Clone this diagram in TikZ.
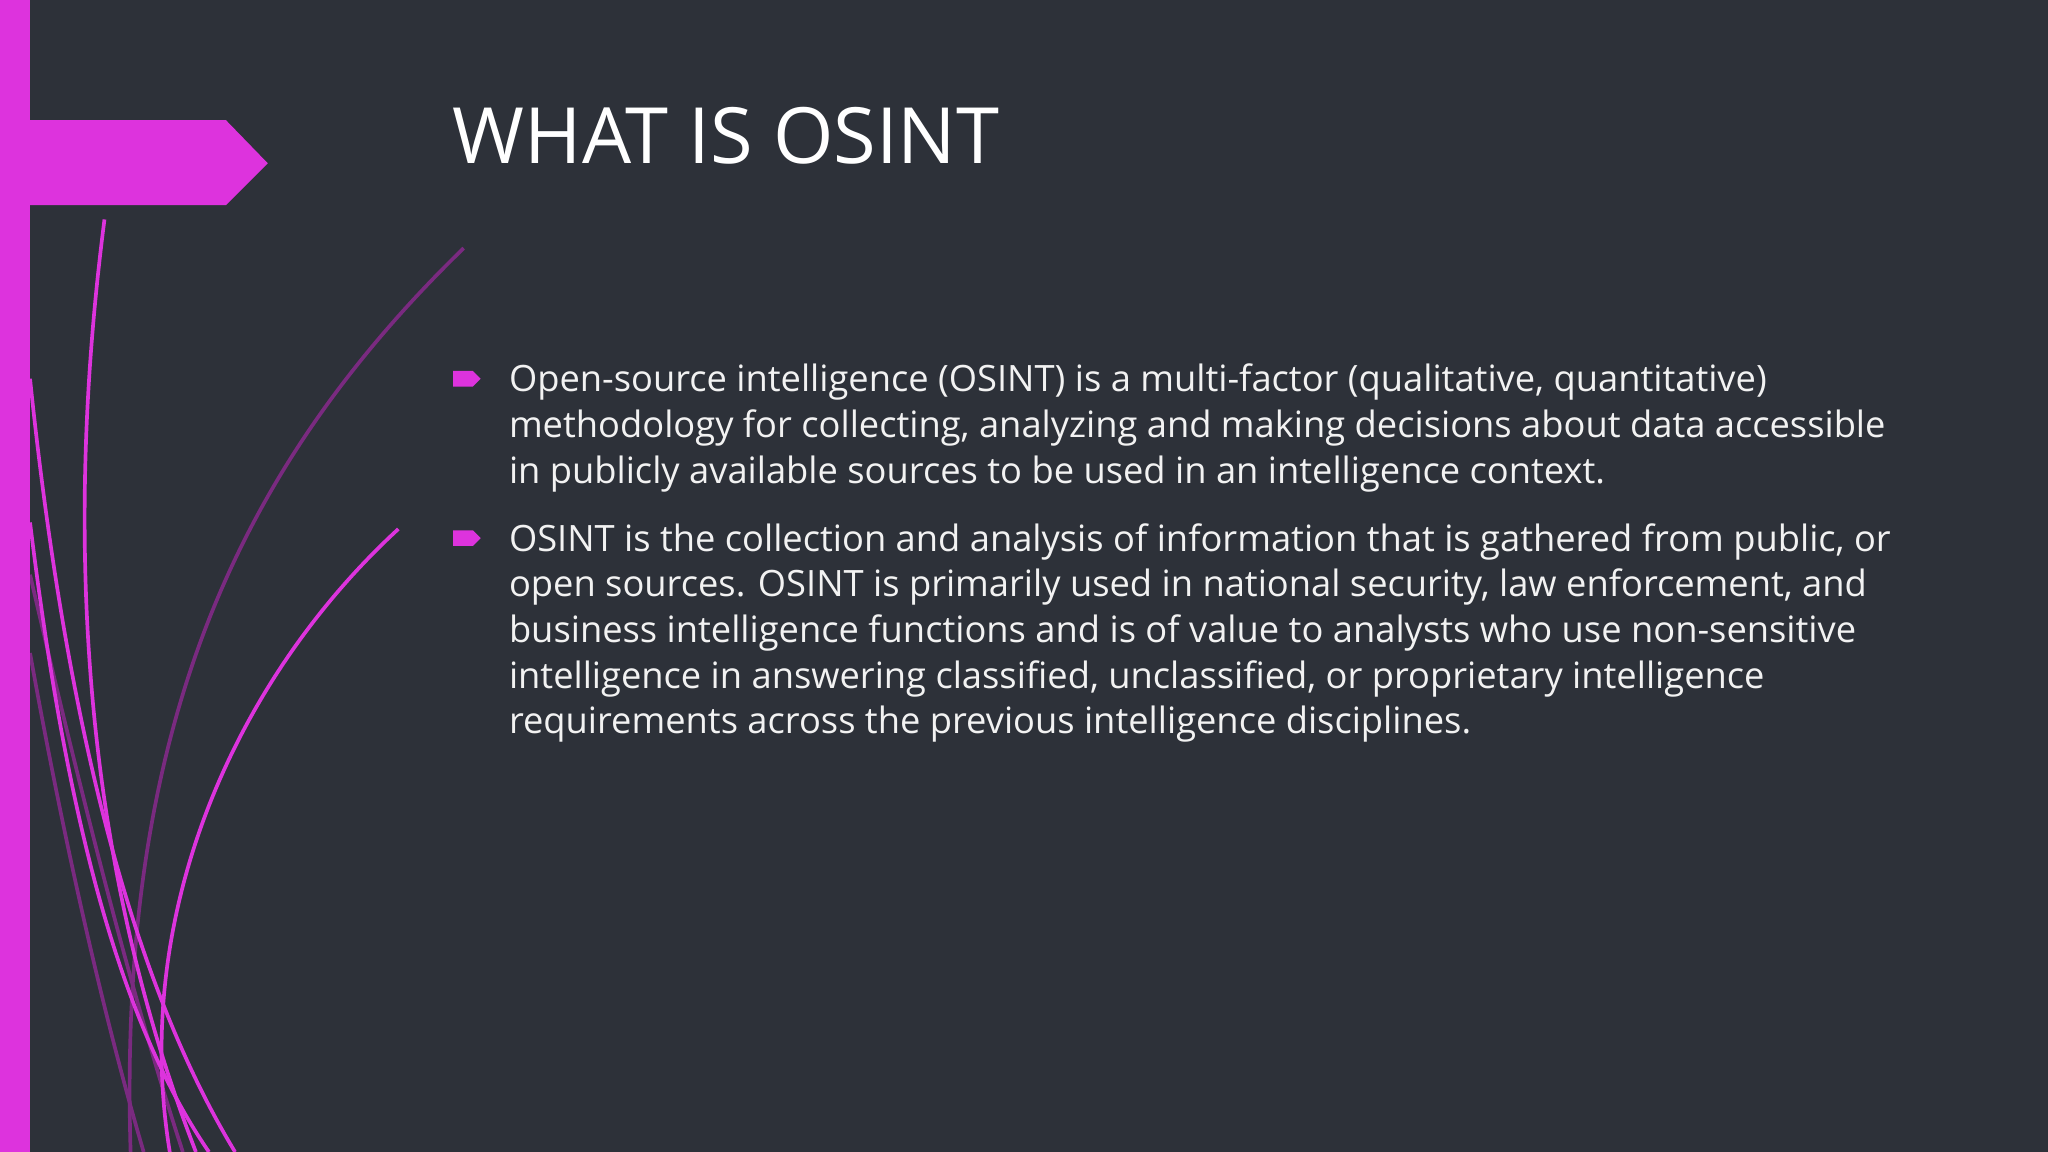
\documentclass[tikz,border=0pt]{standalone}
\usepackage{fontspec}
\setmainfont{Open Sans}
\definecolor{bg}{HTML}{2D3139}
\definecolor{mag}{HTML}{DD33DD}
\definecolor{dmag}{HTML}{7A2A80}
\definecolor{txt}{HTML}{F2F2F2}
\begin{document}
\begin{tikzpicture}[x=0.01cm,y=-0.01cm,
  curve/.style={draw=mag,line width=0.8pt},
  dcurve/.style={draw=dmag,line width=0.8pt},
  body/.style={anchor=north west,inner sep=0,text=txt,font=\fontsize{7.9}{9.95}\selectfont,align=left},
  bul/.style={fill=mag}]
\fill[bg] (0,0) rectangle (1568,882);
\useasboundingbox (0,0) rectangle (1568,882);
% curves
\draw[dcurve] (355,190) .. controls (180,360) and (90,560) .. (100,882);
\draw[dcurve] (23,440) .. controls (60,600) and (100,760) .. (140,882);
\draw[dcurve] (23,500) .. controls (50,650) and (80,780) .. (110,882);
\draw[curve] (80,168) .. controls (50,400) and (60,650) .. (150,882);
\draw[curve] (305,405) .. controls (180,520) and (100,700) .. (130,882);
\draw[curve] (23,290) .. controls (50,550) and (100,750) .. (180,882);
\draw[curve] (23,400) .. controls (50,620) and (90,780) .. (160,882);
% left bar and banner
\fill[mag] (0,0) rectangle (23,882);
\fill[mag] (23,92) -- (173,92) -- (205,125) -- (173,157) -- (23,157) -- cycle;
% title
\node[anchor=base west,inner sep=0,text=white,font=\fontsize{16.9}{20}\selectfont] (title) at (346,125) {WHAT IS OSINT};
% bullets
\fill[bul] (347,284) -- (362,284) -- (368,290) -- (362,296) -- (347,296) -- cycle;
\fill[bul] (347,406) -- (362,406) -- (368,412) -- (362,418) -- (347,418) -- cycle;
\node[body] (p1) at (389,278) {Open-source intelligence (OSINT) is a multi-factor (qualitative, quantitative)\\methodology for collecting, analyzing and making decisions about data accessible\\in publicly available sources to be used in an intelligence context.};
\node[body] (p2) at (389,400) {OSINT is the collection and analysis of information that is gathered from public, or\\open sources. OSINT is primarily used in national security, law enforcement, and\\business intelligence functions and is of value to analysts who use non-sensitive\\intelligence in answering classified, unclassified, or proprietary intelligence\\requirements across the previous intelligence disciplines.};
\end{tikzpicture}
\end{document}
